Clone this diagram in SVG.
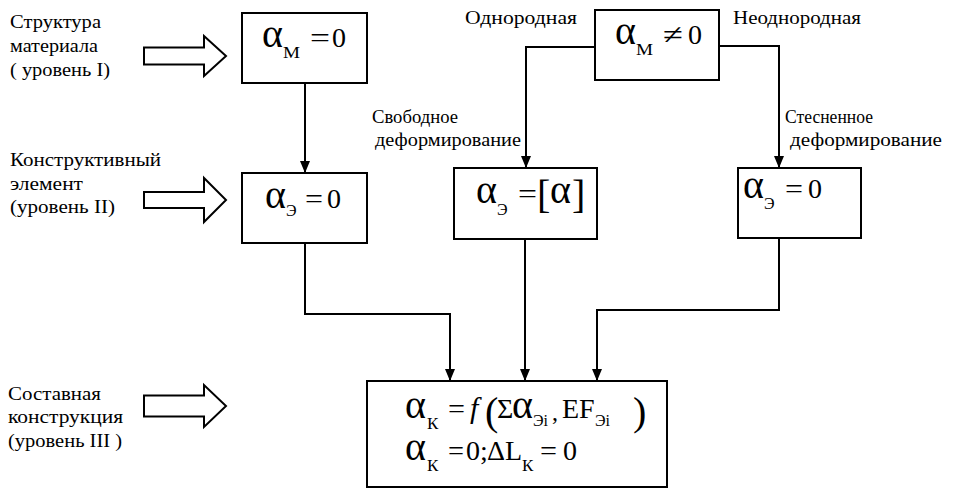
<svg xmlns="http://www.w3.org/2000/svg" width="954" height="490" viewBox="0 0 954 490">
<style>
text { font-family: "Liberation Serif", "DejaVu Serif", serif; fill: #000; }
.t { font-size: 18px; }
.a { font-size: 40px; }
.s { font-size: 17px; }
.e { font-size: 16px; }
.m { font-size: 28px; }
.box { fill: #fff; stroke: #000; stroke-width: 2; }
.c { fill: none; stroke: #000; stroke-width: 2; }
.blk { fill: #fff; stroke: #000; stroke-width: 2; stroke-linejoin: miter; }
</style>
<defs>
<marker id="ah" markerUnits="userSpaceOnUse" markerWidth="12" markerHeight="10" refX="12" refY="5" orient="auto">
<path d="M0,0 L12,5 L0,10 z" fill="#000"/>
</marker>
</defs>

<g id="connectors">
<path class="c" d="M305,83 V173" marker-end="url(#ah)"/>
<path class="c" d="M595,47 H526 V168" marker-end="url(#ah)"/>
<path class="c" d="M719,46 H779 V168" marker-end="url(#ah)"/>
<path class="c" d="M305,243 V314 H450 V381" marker-end="url(#ah)"/>
<path class="c" d="M525,239 V381" marker-end="url(#ah)"/>
<path class="c" d="M779,238 V310 H597 V381" marker-end="url(#ah)"/>
</g>

<g id="level1">
<text class="t" x="10" y="28" textLength="91" lengthAdjust="spacingAndGlyphs">Структура</text>
<text class="t" x="10" y="52" textLength="88" lengthAdjust="spacingAndGlyphs">материала</text>
<text class="t" x="10" y="76" textLength="100" lengthAdjust="spacingAndGlyphs">( уровень I)</text>
<path class="blk" d="M144,47.5 H204 V36 L226,56 L204,76 V64.5 H144 Z"/>
</g>
<g id="level2">
<text class="t" x="10" y="166" textLength="151" lengthAdjust="spacingAndGlyphs">Конструктивный</text>
<text class="t" x="10" y="190" textLength="73" lengthAdjust="spacingAndGlyphs">элемент</text>
<text class="t" x="10" y="213" textLength="105" lengthAdjust="spacingAndGlyphs">(уровень II)</text>
<path class="blk" d="M144,192 H204 V178 L226,200 L204,222 V208 H144 Z"/>
</g>
<g id="level3">
<text class="t" x="8" y="400" textLength="93" lengthAdjust="spacingAndGlyphs">Составная</text>
<text class="t" x="8" y="423" textLength="115" lengthAdjust="spacingAndGlyphs">конструкция</text>
<text class="t" x="8" y="447" textLength="114" lengthAdjust="spacingAndGlyphs">(уровень III )</text>
<path class="blk" d="M144,395.5 H204 V385 L226,406 L204,427 V416.5 H144 Z"/>
</g>

<g id="labels">
<text class="t" x="465" y="24" textLength="112" lengthAdjust="spacingAndGlyphs">Однородная</text>
<text class="t" x="733" y="24" textLength="128" lengthAdjust="spacingAndGlyphs">Неоднородная</text>
<text class="t" x="372" y="123" textLength="86" lengthAdjust="spacingAndGlyphs">Свободное</text>
<text class="t" x="375" y="146" textLength="146" lengthAdjust="spacingAndGlyphs">деформирование</text>
<text class="t" x="785" y="123" textLength="88" lengthAdjust="spacingAndGlyphs">Стесненное</text>
<text class="t" x="790" y="146" textLength="152" lengthAdjust="spacingAndGlyphs">деформирование</text>
</g>

<g id="node-m0">
<rect class="box" x="242" y="13" width="125" height="70"/>
<text class="a" x="262" y="47">α</text>
<text class="s" x="283" y="58" textLength="17" lengthAdjust="spacingAndGlyphs">М</text>
<text class="m" x="310" y="47" textLength="20" lengthAdjust="spacingAndGlyphs">=</text>
<text class="m" x="332" y="47">0</text>
</g>

<g id="node-mne0">
<rect class="box" x="595" y="10" width="124" height="70"/>
<text class="a" x="615" y="44">α</text>
<text class="s" x="636" y="55" textLength="17" lengthAdjust="spacingAndGlyphs">М</text>
<text class="m" x="663" y="44" textLength="20" lengthAdjust="spacingAndGlyphs">≠</text>
<text class="m" x="688" y="44">0</text>
</g>

<g id="node-e-left">
<rect class="box" x="242" y="173" width="125" height="70"/>
<text class="a" x="265" y="208">α</text>
<text class="e" x="286" y="216">Э</text>
<text class="m" x="305" y="208" textLength="18" lengthAdjust="spacingAndGlyphs">=</text>
<text class="m" x="327" y="208">0</text>
</g>

<g id="node-e-mid">
<rect class="box" x="454" y="168" width="143" height="71"/>
<text class="a" x="476" y="203">α</text>
<text class="e" x="497" y="215">Э</text>
<text class="m" x="518" y="203" textLength="19" lengthAdjust="spacingAndGlyphs">=</text>
<text x="537" y="208" style="font-size:40px">[</text>
<text class="a" x="550" y="203">α</text>
<text x="572" y="208" style="font-size:40px">]</text>
</g>

<g id="node-e-right">
<rect class="box" x="738" y="168" width="123" height="70"/>
<text class="a" x="743" y="198">α</text>
<text class="e" x="764" y="209">Э</text>
<text class="m" x="785" y="198" textLength="18" lengthAdjust="spacingAndGlyphs">=</text>
<text class="m" x="808" y="198">0</text>
</g>

<g id="node-k">
<rect class="box" x="367" y="381" width="300" height="106"/>
<text class="a" x="405" y="418">α</text>
<text class="s" x="427" y="429">К</text>
<text class="m" x="448" y="418" textLength="17" lengthAdjust="spacingAndGlyphs">=</text>
<text x="470" y="418" style="font-size:30px;font-style:italic">f</text>
<text x="485" y="425" style="font-size:40px">(</text>
<text class="m" x="497" y="418">Σ</text>
<text class="a" x="512" y="418">α</text>
<text class="e" x="533" y="426">Эi</text>
<text class="m" x="552" y="420" style="font-size:24px">,</text>
<text class="m" x="562" y="418">EF</text>
<text class="e" x="595" y="426">Эi</text>
<text x="633" y="425" style="font-size:40px">)</text>
<text class="a" x="405" y="460">α</text>
<text class="s" x="427" y="471">К</text>
<text class="m" x="448" y="460" textLength="16" lengthAdjust="spacingAndGlyphs">=</text>
<text class="m" x="466" y="460">0;</text>
<text class="m" x="487" y="460">Δ</text>
<text class="m" x="505" y="460">L</text>
<text class="s" x="522" y="471">К</text>
<text class="m" x="540" y="460" textLength="17" lengthAdjust="spacingAndGlyphs">=</text>
<text class="m" x="563" y="460">0</text>
</g>
</svg>
